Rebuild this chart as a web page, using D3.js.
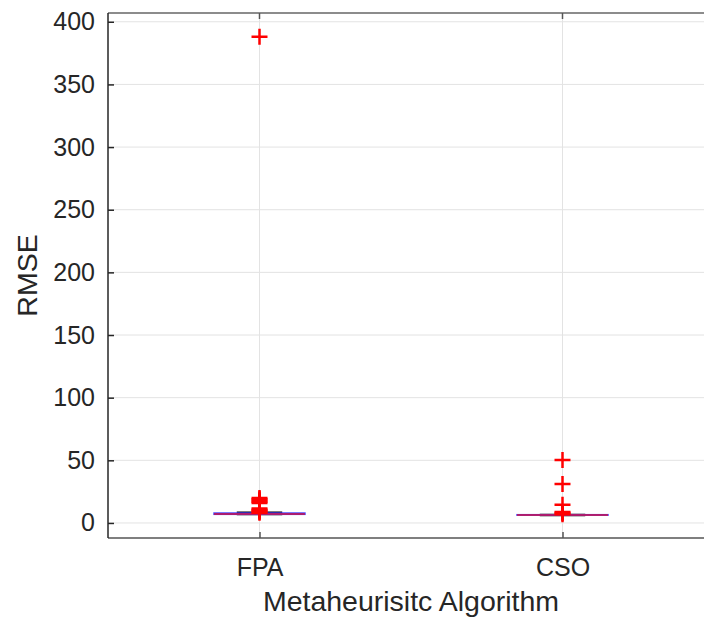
<!DOCTYPE html>
<html>
<head>
<meta charset="utf-8">
<script src="https://cdn.jsdelivr.net/npm/d3@7"></script>
<style>
  body { margin: 0; background: #fff; }
  text { font-family: "Liberation Sans", Arial, sans-serif; fill: #262626; }
</style>
</head>
<body>
<div class="svg-container"></div>
<script>
// Data
const categories = ['FPA', 'CSO'];
const lowerWhisker = [6.8, 6.0];
const q1 = [6.9, 6.2];
const medians = [7.2, 6.4];
const q3 = [7.9, 6.6];
const upperWhisker = [8.5, 6.8];
const outliersFPA = [388, 20, 19, 18, 17, 16, 11.5, 10.5, 10, 9, 8.2];
const outliersCSO = [50.2, 31, 14.5, 8.8, 8, 7];
const yTicks = [0, 50, 100, 150, 200, 250, 300, 350, 400];

const outliers = [outliersFPA, outliersCSO];

const width = 704, height = 618;
const mLeft = 108, mRight = 714, mTop = 13, mBottom = 538;
const font = '"Liberation Sans", Arial, sans-serif';

const svg = d3.select('.svg-container').append('svg')
    .attr('width', width)
    .attr('height', height);

const x = d3.scaleLinear().domain([0.5, 2.5]).range([mLeft, mRight]);
const y = d3.scaleLinear().domain([-12, 407]).range([mBottom, mTop]);

const boxW = 0.3, capW = 0.15;

// grid
svg.append('g').selectAll('line').data(yTicks)
    .enter().append('line')
    .attr('x1', mLeft).attr('x2', mRight)
    .attr('y1', d => y(d)).attr('y2', d => y(d))
    .attr('stroke', '#e3e3e3').attr('stroke-width', 1);
svg.append('g').selectAll('line').data(categories)
    .enter().append('line')
    .attr('x1', (d, i) => x(i + 1)).attr('x2', (d, i) => x(i + 1))
    .attr('y1', mTop).attr('y2', mBottom)
    .attr('stroke', '#e3e3e3').attr('stroke-width', 1);

// axes frame
svg.append('line').attr('x1', mLeft).attr('x2', mRight).attr('y1', mTop).attr('y2', mTop)
    .attr('stroke', '#666').attr('stroke-width', 1.5);
svg.append('line').attr('x1', mLeft).attr('x2', mRight).attr('y1', mBottom).attr('y2', mBottom)
    .attr('stroke', '#555').attr('stroke-width', 1.5);

const yAxis = d3.axisLeft(y).tickValues(yTicks).tickSizeInner(-6).tickSizeOuter(0).tickPadding(13);
const gy = svg.append('g').attr('transform', `translate(${mLeft},0)`).call(yAxis);
gy.select('.domain').attr('stroke', '#262626').attr('stroke-width', 1.5)
    .attr('d', `M0,${mTop}V${mBottom}`);
gy.selectAll('.tick line').attr('stroke', '#262626').attr('stroke-width', 1.5);
gy.selectAll('.tick text').attr('font-size', 25).style('font-family', font).attr('fill', '#262626');

const xAxis = d3.axisBottom(x).tickValues([1, 2]).tickFormat(d => categories[d - 1])
    .tickSizeInner(-6).tickSizeOuter(0).tickPadding(20);
const gx = svg.append('g').attr('transform', `translate(0,${mBottom})`).call(xAxis);
gx.select('.domain').remove();
gx.selectAll('.tick line').attr('stroke', '#555').attr('stroke-width', 1.5);
gx.selectAll('.tick text').attr('font-size', 25).style('font-family', font).attr('fill', '#262626');

// top ticks
svg.append('g').selectAll('line').data([1, 2]).enter().append('line')
    .attr('x1', d => x(d)).attr('x2', d => x(d))
    .attr('y1', mTop).attr('y2', mTop + 6)
    .attr('stroke', '#555').attr('stroke-width', 1.5);

// boxes
const boxes = svg.append('g').selectAll('g').data(categories).enter().append('g');
// whiskers
boxes.append('line')
    .attr('x1', (d, i) => x(i + 1)).attr('x2', (d, i) => x(i + 1))
    .attr('y1', (d, i) => y(upperWhisker[i])).attr('y2', (d, i) => y(lowerWhisker[i]))
    .attr('stroke', '#000').attr('stroke-dasharray', '4,3');
boxes.append('line')
    .attr('x1', (d, i) => x(i + 1 - capW / 2)).attr('x2', (d, i) => x(i + 1 + capW / 2))
    .attr('y1', (d, i) => y(upperWhisker[i])).attr('y2', (d, i) => y(upperWhisker[i]))
    .attr('stroke', '#000').attr('stroke-width', 1.5);
boxes.append('line')
    .attr('x1', (d, i) => x(i + 1 - capW / 2)).attr('x2', (d, i) => x(i + 1 + capW / 2))
    .attr('y1', (d, i) => y(lowerWhisker[i])).attr('y2', (d, i) => y(lowerWhisker[i]))
    .attr('stroke', '#000').attr('stroke-width', 1.5);
boxes.append('rect')
    .attr('x', (d, i) => x(i + 1 - boxW / 2))
    .attr('width', x(boxW) - x(0))
    .attr('y', (d, i) => y(q3[i]))
    .attr('height', (d, i) => y(q1[i]) - y(q3[i]))
    .attr('fill', 'none').attr('stroke', '#4040ff').attr('stroke-width', 1.5);
boxes.append('line')
    .attr('x1', (d, i) => x(i + 1 - boxW / 2)).attr('x2', (d, i) => x(i + 1 + boxW / 2))
    .attr('y1', (d, i) => y(medians[i])).attr('y2', (d, i) => y(medians[i]))
    .attr('stroke', '#ff0000').attr('stroke-width', 1.5).attr('stroke-opacity', 0.75);

// outliers
const arm = 8;
boxes.each(function (d, i) {
    d3.select(this).selectAll('path.out').data(outliers[i]).enter().append('path')
        .attr('class', 'out')
        .attr('d', v => {
            const cx = x(i + 1), cy = y(v);
            return `M${cx - arm},${cy}H${cx + arm}M${cx},${cy - arm}V${cy + arm}`;
        })
        .attr('stroke', '#ff0000').attr('stroke-width', 2.5).attr('fill', 'none');
});

// labels
svg.append('text')
    .attr('x', (mLeft + mRight) / 2).attr('y', 611)
    .attr('text-anchor', 'middle').attr('font-size', 28.5)
    .text('Metaheurisitc Algorithm');
svg.append('text')
    .attr('transform', `translate(37,${(mTop + mBottom) / 2}) rotate(-90)`)
    .attr('text-anchor', 'middle').attr('font-size', 28.5)
    .text('RMSE');
</script>
</body>
</html>
